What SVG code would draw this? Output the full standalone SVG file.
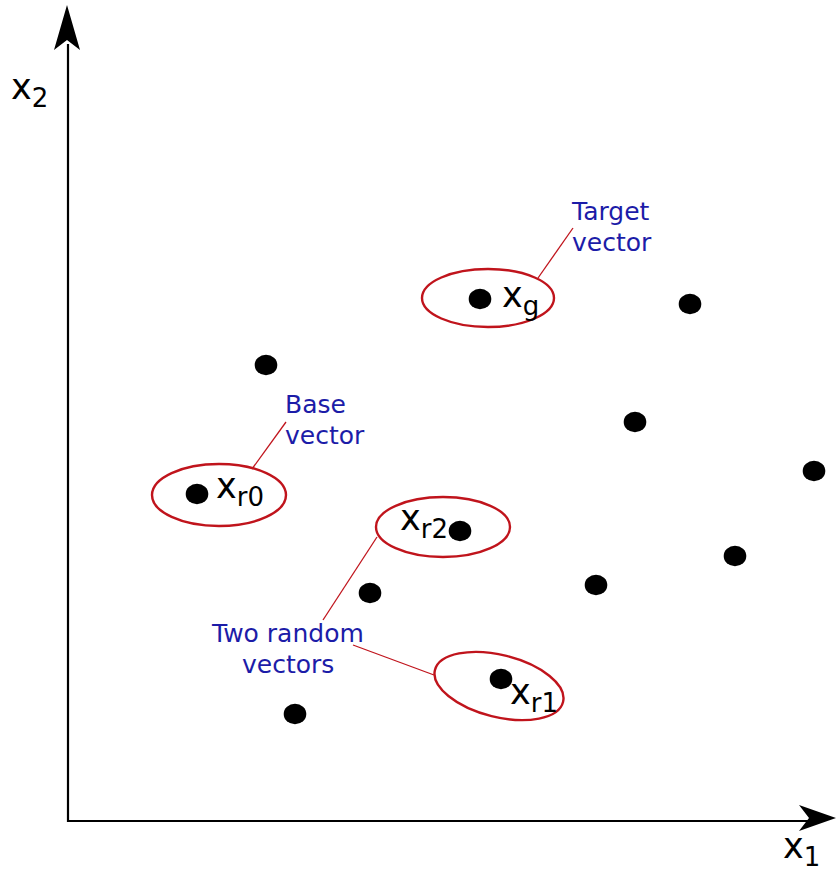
<svg xmlns="http://www.w3.org/2000/svg" width="837" height="873" viewBox="0 0 837 873">
  <style>
    .axis { stroke: #000; stroke-width: 2.2; fill: none; }
    .head { fill: #000; }
    .dot { fill: #000; }
    .ring { fill: none; stroke: #c0141c; stroke-width: 2.4; }
    .lead { fill: none; stroke: #c0141c; stroke-width: 1.3; }
    .var { font-family: "DejaVu Sans", sans-serif; font-size: 35px; fill: #000; }
    .sub { font-size: 26px; }
    .note { font-family: "DejaVu Sans", sans-serif; font-size: 25px; fill: #1c1ca8; }
  </style>

  <defs>
    <ellipse id="pt" class="dot" cx="0" cy="0" rx="11.3" ry="10.2"/>
  </defs>

  <!-- axes -->
  <g id="axes">
    <path class="axis" d="M68,44 V821 H812"/>
    <path class="head" d="M67,5 L80,50 L67,40 L54,50 Z"/>
    <path class="head" d="M836,818 L799,831 L809,818 L799,805 Z"/>
    <text class="var" x="11" y="99">x<tspan class="sub" dy="8">2</tspan></text>
    <text class="var" x="783" y="858">x<tspan class="sub" dy="8">1</tspan></text>
  </g>

  <!-- sample points -->
  <g id="points">
    <use href="#pt" x="690" y="304"/>
    <use href="#pt" x="266" y="365"/>
    <use href="#pt" x="635" y="422"/>
    <use href="#pt" x="814" y="471"/>
    <use href="#pt" x="735" y="556"/>
    <use href="#pt" x="370" y="593"/>
    <use href="#pt" x="596" y="585"/>
    <use href="#pt" x="295" y="714"/>
  </g>

  <!-- connectors -->
  <g id="connectors">
    <path class="lead" d="M538,278 L573,228"/>
    <path class="lead" d="M252,469 L286,422"/>
    <path class="lead" d="M377,537 L323,620"/>
    <path class="lead" d="M353,645 L434,675"/>
  </g>

  <g id="target">
    <ellipse class="ring" cx="488" cy="298" rx="66" ry="29"/>
    <use href="#pt" x="480" y="299"/>
    <text class="var" x="502" y="307">x<tspan class="sub" dy="8">g</tspan></text>
    <text class="note" x="572" y="220">Target</text>
    <text class="note" x="572" y="251">vector</text>
  </g>

  <g id="base">
    <ellipse class="ring" cx="219" cy="495" rx="67" ry="31"/>
    <use href="#pt" x="197" y="494"/>
    <text class="var" x="216" y="498">x<tspan class="sub" dy="8">r0</tspan></text>
    <text class="note" x="285" y="413">Base</text>
    <text class="note" x="285" y="444">vector</text>
  </g>

  <g id="random2">
    <ellipse class="ring" cx="443" cy="527" rx="67" ry="30"/>
    <use href="#pt" x="460" y="531"/>
    <text class="var" x="400" y="530">x<tspan class="sub" dy="8">r2</tspan></text>
  </g>

  <g id="random1">
    <ellipse class="ring" cx="499" cy="686" rx="66" ry="31" transform="rotate(14 499 686)"/>
    <use href="#pt" x="501" y="679"/>
    <text class="var" x="510" y="704">x<tspan class="sub" dy="8">r1</tspan></text>
  </g>

  <g id="random-label">
    <text class="note" x="212" y="642">Two random</text>
    <text class="note" x="242" y="673">vectors</text>
  </g>
</svg>
